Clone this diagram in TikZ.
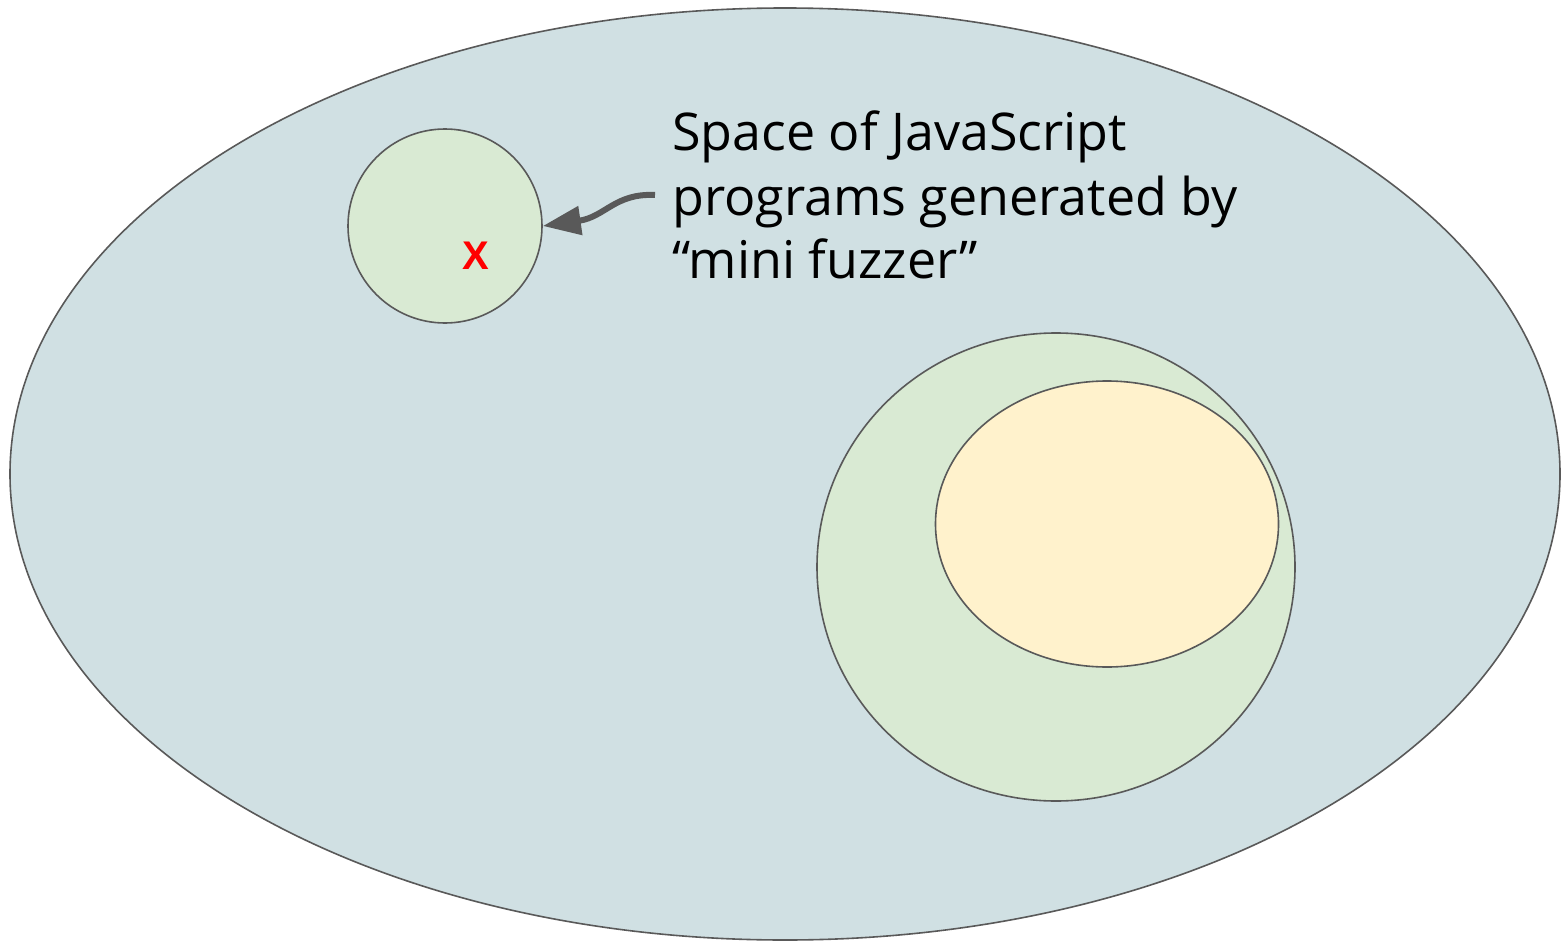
\documentclass[tikz,border=0pt]{standalone}
\usepackage{fontspec}
\setmainfont{Open Sans}
\newfontfamily\markfont{Liberation Sans}
\usetikzlibrary{arrows.meta,shapes.geometric}
\definecolor{outerfill}{HTML}{D0E0E3}
\definecolor{greenfill}{HTML}{D9EAD3}
\definecolor{yellowfill}{HTML}{FFF2CC}
\definecolor{edge}{HTML}{595959}
\definecolor{mark}{HTML}{FF0000}
\begin{document}
\begin{tikzpicture}[x=1pt,y=-1pt,
  region/.style={draw=edge,line width=1.6pt},
  label/.style={anchor=base west,inner sep=0pt,font=\fontsize{52}{64}\selectfont,text=black},
  pointer/.style={draw=edge,line width=6pt,-{Triangle[length=38pt,width=28pt]}}]
  \useasboundingbox (0,0) rectangle (1561,942);
  % outer space of programs
  \node[region,fill=outerfill,ellipse,minimum width=1550pt,minimum height=932pt,inner sep=0pt] (space) at (785,474) {};
  % small region explored by the mini fuzzer
  \node[region,fill=greenfill,circle,minimum size=194pt,inner sep=0pt] (mini) at (445,226) {};
  % larger region and its inner subset
  \node[region,fill=greenfill,ellipse,minimum width=478pt,minimum height=468pt,inner sep=0pt] (big) at (1056,567) {};
  \node[region,fill=yellowfill,ellipse,minimum width=343pt,minimum height=286pt,inner sep=0pt] (inner) at (1107,524) {};
  % the marked program
  \node[inner sep=0pt,text=mark,font=\markfont\bfseries\fontsize{40}{40}\selectfont] (x) at (476,256) {X};
  % caption
  \node[label] (t1) at (672,150) {Space of JavaScript};
  \node[label] (t2) at (672,215) {programs generated by};
  \node[label] (t3) at (672,278) {“mini fuzzer”};
  \coordinate (start) at (655,195);
  \draw[pointer] (start) .. controls (615,193) and (605,217) .. (mini.east);
\end{tikzpicture}
\end{document}
